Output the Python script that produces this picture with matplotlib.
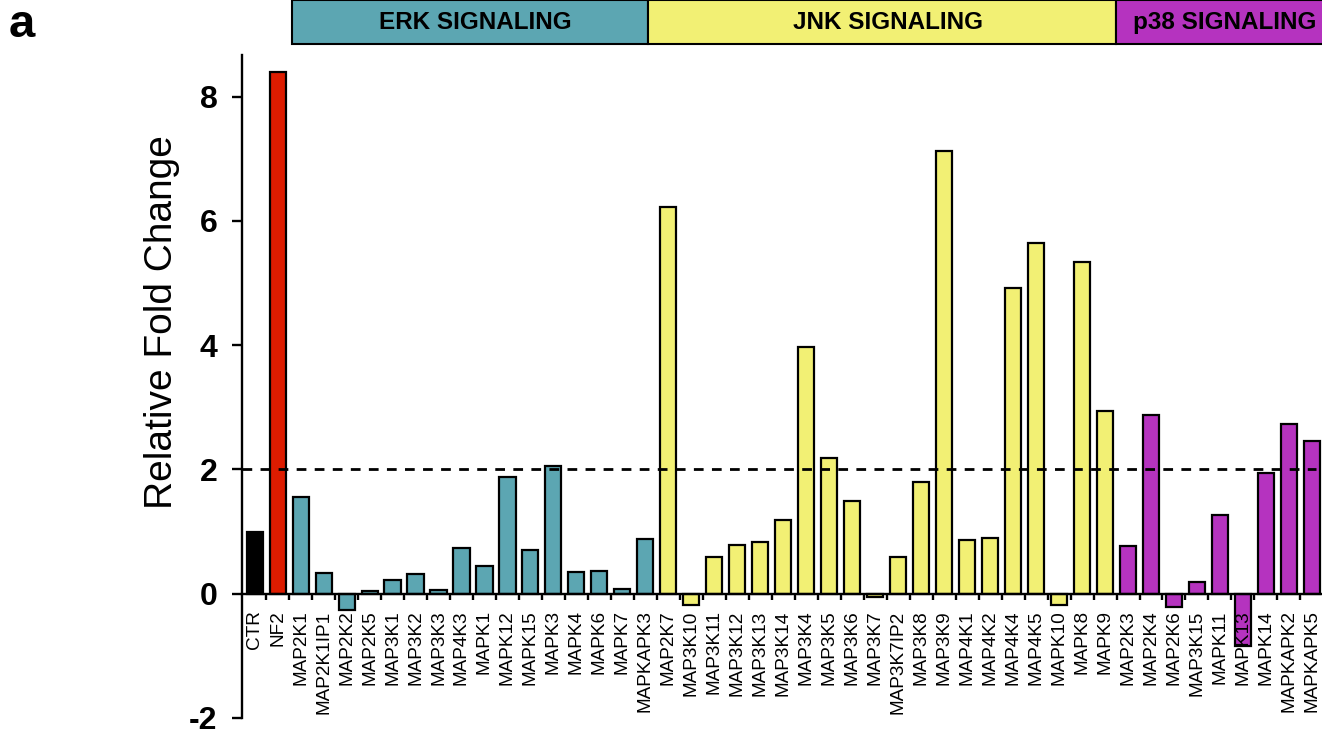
import matplotlib
matplotlib.use("Agg")
import matplotlib.pyplot as plt
from matplotlib.patches import Rectangle
import numpy as np

plt.rcParams['font.family'] = ['Liberation Sans', 'DejaVu Sans']
plt.rcParams['axes.unicode_minus'] = False

# controls
ctrl_genes = ['CTR', 'NF2']
ctrl_vals = [1.00, 8.39]

# ERK pathway
erk_genes = ['MAP2K1', 'MAP2K1IP1', 'MAP2K2', 'MAP2K5', 'MAP3K1', 'MAP3K2', 'MAP3K3',
             'MAP4K3', 'MAPK1', 'MAPK12', 'MAPK15', 'MAPK3', 'MAPK4', 'MAPK6', 'MAPK7',
             'MAPKAPK3']
erk_vals = [1.56, 0.33, -0.26, 0.04, 0.22, 0.31, 0.065, 0.73, 0.44, 1.87, 0.70, 2.06,
            0.35, 0.37, 0.08, 0.88]

# JNK pathway
jnk_genes = ['MAP2K7', 'MAP3K10', 'MAP3K11', 'MAP3K12', 'MAP3K13', 'MAP3K14', 'MAP3K4',
             'MAP3K5', 'MAP3K6', 'MAP3K7', 'MAP3K7IP2', 'MAP3K8', 'MAP3K9', 'MAP4K1',
             'MAP4K2', 'MAP4K4', 'MAP4K5', 'MAPK10', 'MAPK8', 'MAPK9']
jnk_vals = [6.23, -0.19, 0.59, 0.78, 0.83, 1.19, 3.97, 2.19, 1.49, -0.05, 0.59, 1.80,
            7.13, 0.86, 0.90, 4.92, 5.65, -0.18, 5.33, 2.94]

# p38 pathway
p38_genes = ['MAP2K3', 'MAP2K4', 'MAP2K6', 'MAP3K15', 'MAPK11', 'MAPK13', 'MAPK14',
             'MAPKAPK2', 'MAPKAPK5']
p38_vals = [0.77, 2.88, -0.22, 0.19, 1.26, -0.85, 1.94, 2.73, 2.45]

threshold = 2.0

group_names = ['ERK SIGNALING', 'JNK SIGNALING', 'p38 SIGNALING']
c_erk, c_jnk, c_p38 = '#5ca6b2', '#f2f074', '#b533bf'
group_colors = [c_erk, c_jnk, c_p38]
band_edges = [1.62, 17.12, 37.48, 47.5]

genes = ctrl_genes + erk_genes + jnk_genes + p38_genes
vals = ctrl_vals + erk_vals + jnk_vals + p38_vals
colors = (['black', '#dd1c00'] + [c_erk] * len(erk_genes) + [c_jnk] * len(jnk_genes)
          + [c_p38] * len(p38_genes))
x = np.arange(len(genes))

fig = plt.figure(figsize=(13.22, 7.36), dpi=100)
ax = fig.add_axes([0.1834, 0.0246, 0.8166, 0.9007])
ax.set_axisbelow(False)

ax.bar(x, vals, width=0.7, color=colors, edgecolor='black', linewidth=1.6, zorder=1)
ax.hlines(threshold, -0.53, 46.2, colors='black', linestyles=(0, (3.5, 3)),
          linewidth=2.0, zorder=3)

ax.set_xlim(-0.53, 46.44)
ax.set_ylim(-2, 8.67)

for s in ['top', 'right']:
    ax.spines[s].set_visible(False)
ax.spines['bottom'].set_position(('data', 0))
ax.spines['bottom'].set_linewidth(1.7)
ax.spines['left'].set_linewidth(1.7)

ax.set_yticks([-2, 0, 2, 4, 6, 8])
ax.set_yticklabels(['-2', '0', '2', '4', '6', '8'], fontsize=23, fontweight='bold')
ax.tick_params(axis='y', direction='out', length=7, width=1.7, pad=11)

ax.set_xticks(x)
ax.set_xticklabels(genes, rotation=90, fontsize=13.7, va='top', ha='center')
ax.set_xticks(x[:-1] + 0.5, minor=True)
ax.tick_params(axis='x', which='major', length=0, pad=12)
ax.tick_params(axis='x', which='minor', direction='out', length=4, width=1.7)

fig.text(0.1225, 0.5618, 'Relative Fold Change', rotation=90, ha='center', va='center',
         fontsize=28)
fig.text(0.0065, 0.9497, 'a', fontsize=34, fontweight='bold', va='baseline', ha='left')

# pathway header bands
band = fig.add_axes([0.1834, 0.9402, 0.8166, 0.0598])
band.set_xlim(ax.get_xlim())
band.set_ylim(0, 1)
band.axis('off')
for name, col, lo, hi in zip(group_names, group_colors, band_edges[:-1], band_edges[1:]):
    band.add_patch(Rectangle((lo, 0), hi - lo, 1, facecolor=col, edgecolor='black',
                             linewidth=1.5, clip_on=False))
    mid = (lo + min(hi, 46.44)) / 2 + 0.25
    band.text(mid, 0.5, name, ha='center', va='center', fontsize=17.5, fontweight='bold')

fig.savefig('out.png', dpi=100)
